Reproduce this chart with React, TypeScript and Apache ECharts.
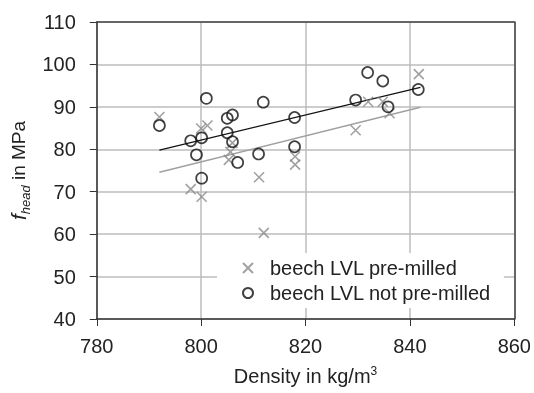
import React, { useEffect, useRef } from "react";
import * as echarts from "echarts";

const xTicks = [780, 800, 820, 840, 860];
const yTicks = [40, 50, 60, 70, 80, 90, 100, 110];

const preMilledDensity = [792, 800, 801.2, 798, 800.1, 805.3, 805.6, 806, 811.1, 812, 818, 818, 829.6, 832, 834.8, 836.1, 841.7];
const preMilledF = [87.6, 84.9, 85.6, 70.6, 68.8, 77.5, 79.4, 81.5, 73.4, 60.3, 78.3, 76.4, 84.5, 91.2, 91.2, 88.5, 97.7];

const notPreMilledDensity = [792, 801, 805, 806, 798, 800.1, 805, 806, 799.1, 807, 800.1, 811.9, 817.9, 811, 817.9, 831.9, 834.8, 829.6, 835.8, 841.6];
const notPreMilledF = [85.6, 92.0, 87.3, 88.1, 82.0, 82.7, 83.9, 81.8, 78.7, 76.9, 73.2, 91.1, 87.5, 78.9, 80.6, 98.1, 96.1, 91.6, 90.0, 94.1];

const fitPreMilledX = [792, 842];
const fitPreMilledY = [74.6, 89.9];
const fitNotPreMilledX = [792, 842];
const fitNotPreMilledY = [79.8, 94.6];

const seriesNames = ["beech LVL pre-milled", "beech LVL not pre-milled"];

const FONT = "Liberation Sans, Arial, sans-serif";
const CROSS = "path://M0,0L10,10M0,10L10,0";

export default function App() {
  const ref = useRef<HTMLDivElement>(null);
  useEffect(() => {
    if (!ref.current) return;
    const chart = echarts.init(ref.current, null, { renderer: "svg" });
    const zip = (xs: number[], ys: number[]) => xs.map((x, i) => [x, ys[i]]);
    chart.setOption({
      animation: false,
      grid: { left: 95, right: 18, top: 22, bottom: 74 },
      xAxis: [
        {
          type: "value",
          min: xTicks[0],
          max: xTicks[xTicks.length - 1],
          interval: 20,
          name: "Density in kg/m{sup|3}",
          nameLocation: "middle",
          nameGap: 46,
          nameTextStyle: {
            fontFamily: FONT,
            fontSize: 20,
            color: "#222",
            rich: { sup: { fontSize: 12, verticalAlign: "top", fontFamily: FONT, color: "#222", lineHeight: 22 } },
          },
          axisLine: { show: true, lineStyle: { color: "#333", width: 1.5 } },
          axisTick: { show: true, length: 7, lineStyle: { color: "#333", width: 1 } },
          axisLabel: { fontFamily: FONT, fontSize: 20, color: "#222", margin: 17 },
          splitLine: { show: true, lineStyle: { color: "#bdbdbd", width: 1.5 } },
        },
        {
          type: "value",
          position: "top",
          min: xTicks[0],
          max: xTicks[xTicks.length - 1],
          interval: 20,
          axisLine: { show: true, lineStyle: { color: "#444", width: 1.5 } },
          axisTick: { show: false },
          axisLabel: { show: false },
          splitLine: { show: false },
        },
      ],
      yAxis: [
        {
          type: "value",
          min: yTicks[0],
          max: yTicks[yTicks.length - 1],
          interval: 10,
          name: "{f|f}{s|head}{n| in MPa}",
          nameLocation: "middle",
          nameRotate: 90,
          nameGap: 62,
          nameTextStyle: {
            fontFamily: FONT,
            color: "#222",
            rich: {
              f: { fontFamily: FONT, fontSize: 21, fontStyle: "italic", color: "#222", lineHeight: 26 },
              s: { fontFamily: FONT, fontSize: 13, fontStyle: "italic", color: "#222", verticalAlign: "bottom", lineHeight: 26 },
              n: { fontFamily: FONT, fontSize: 19, color: "#222", lineHeight: 26 },
            },
          },
          axisLine: { show: true, lineStyle: { color: "#333", width: 1.5 } },
          axisTick: { show: true, length: 7, lineStyle: { color: "#333", width: 1 } },
          axisLabel: { fontFamily: FONT, fontSize: 20, color: "#222", margin: 21 },
          splitLine: { show: true, lineStyle: { color: "#bdbdbd", width: 1.5 } },
        },
        {
          type: "value",
          position: "right",
          min: yTicks[0],
          max: yTicks[yTicks.length - 1],
          interval: 10,
          axisLine: { show: true, lineStyle: { color: "#444", width: 1.5 } },
          axisTick: { show: false },
          axisLabel: { show: false },
          splitLine: { show: false },
        },
      ],
      legend: {
        data: seriesNames,
        orient: "vertical",
        left: 217,
        top: 253,
        backgroundColor: "#fff",
        padding: [5, 13, 5, 25],
        itemGap: 5,
        itemWidth: 10,
        itemHeight: 10,
        textStyle: { fontFamily: FONT, fontSize: 20, color: "#222", lineHeight: 20, padding: [0, 0, 0, 12] },
      },
      series: [
        {
          name: seriesNames[0],
          type: "scatter",
          data: zip(preMilledDensity, preMilledF),
          symbol: CROSS,
          symbolSize: 10,
          itemStyle: { color: "rgba(0,0,0,0)", borderColor: "#8a8a8a", borderWidth: 1.6 },
          z: 3,
        },
        {
          name: seriesNames[1],
          type: "scatter",
          data: zip(notPreMilledDensity, notPreMilledF),
          symbol: "circle",
          symbolSize: 11,
          itemStyle: { color: "rgba(0,0,0,0)", borderColor: "#111", borderWidth: 1.7 },
          z: 4,
        },
        {
          name: "fit pre-milled",
          type: "line",
          data: zip(fitPreMilledX, fitPreMilledY),
          symbol: "none",
          lineStyle: { color: "#a0a0a0", width: 1.4 },
          z: 2,
        },
        {
          name: "fit not pre-milled",
          type: "line",
          data: zip(fitNotPreMilledX, fitNotPreMilledY),
          symbol: "none",
          lineStyle: { color: "#111", width: 1.2 },
          z: 2,
        },
      ],
    });
    return () => chart.dispose();
  }, []);
  return <div ref={ref} style={{ position: "fixed", left: 0, top: 0, width: 534, height: 393 }} />;
}
